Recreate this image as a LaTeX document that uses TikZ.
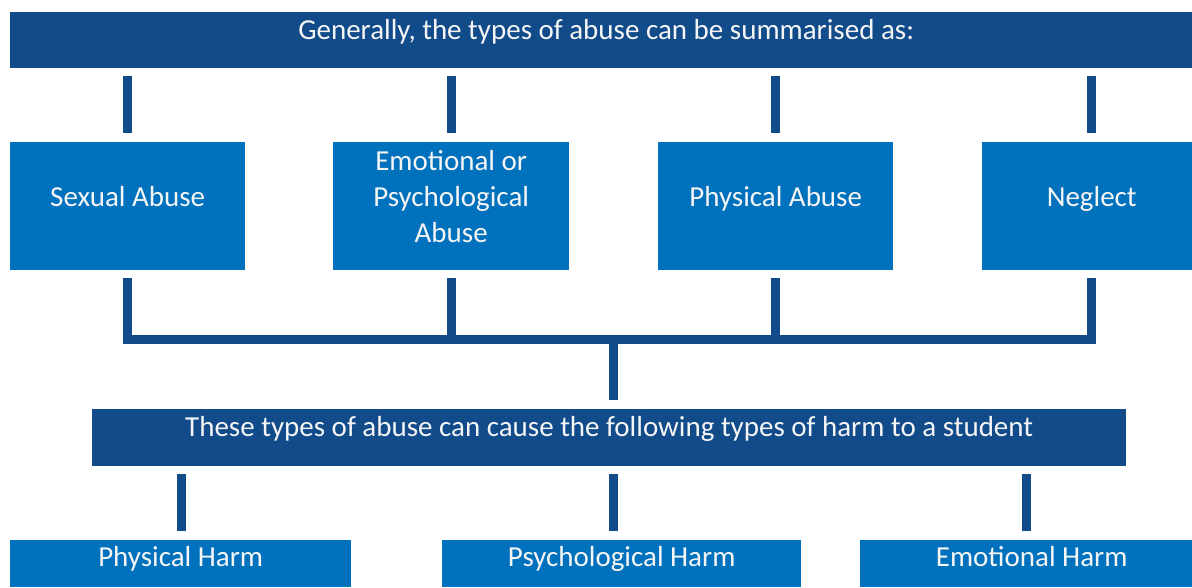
\documentclass[tikz,border=0pt]{standalone}
\usepackage{fontspec}
\setmainfont{Carlito}
\usetikzlibrary{calc}
\definecolor{darkblue}{RGB}{17,75,138}
\definecolor{midblue}{RGB}{0,113,188}
\begin{document}
\begin{tikzpicture}[x=1pt,y=-1pt,
  txt/.style={text=white!96!black, font=\fontsize{29}{36}\selectfont},
  bar/.style={txt, fill=darkblue, inner sep=0pt, anchor=north west},
  box/.style={txt, fill=midblue, inner sep=0pt, anchor=north west, align=center},
  lbl/.style={txt, inner sep=0pt, align=center},
  conn/.style={draw=darkblue, line width=9pt, line join=miter, line cap=butt}]
\useasboundingbox (0,0) rectangle (1192,587);
% top bar
\node[bar, minimum width=1192pt, minimum height=56pt, text height=27pt, text depth=29pt] (top) at (10,12)
  {Generally, the types of abuse can be summarised as:};
% abuse types
\node[box, minimum width=235pt, minimum height=128pt, text height=64pt, text depth=64pt] (sex) at (10,142) {Sexual Abuse};
\node[box, minimum width=236pt, minimum height=128pt] (emo) at (333,142) {};
\node[lbl] (emoT) at ([yshift=10pt]emo.center) {Emotional or\\Psychological\\Abuse};
\node[box, minimum width=235pt, minimum height=128pt, text height=64pt, text depth=64pt] (phy) at (658,142) {Physical Abuse};
\node[box, minimum width=219pt, minimum height=128pt, text height=64pt, text depth=64pt] (neg) at (982,142) {Neglect};
% second bar
\node[bar, minimum width=1034pt, minimum height=57pt, text height=27.7pt, text depth=29.3pt] (harm) at (92,409)
  {These types of abuse can cause the following types of harm to a student};
% harm types
\node[box, minimum width=341pt, minimum height=47pt, text height=26.7pt, text depth=20.3pt] (ph) at (10,540) {Physical Harm};
\node[box, minimum width=359pt, minimum height=47pt, text height=26.7pt, text depth=20.3pt] (psh) at (442,540) {Psychological Harm};
\node[box, minimum width=343pt, minimum height=47pt, text height=26.7pt, text depth=20.3pt] (eh) at (860,540) {Emotional Harm};
% junction
\coordinate (mid) at (613.5,339.5);
% top stubs
\foreach \b in {sex,emo,phy,neg}{
  \draw[conn] (top.south -| \b.north) ++(0pt,-8pt) -- ($(\b.north)+(0pt,9pt)$);
}
% collector
\draw[conn] ($(sex.south)+(0pt,-8pt)$) -- (sex.south |- mid) -- (neg.south |- mid) -- ($(neg.south)+(0pt,-8pt)$);
\foreach \b in {emo,phy}{
  \draw[conn] ($(\b.south)+(0pt,-8pt)$) -- (\b.south |- mid);
}
\draw[conn] (mid) -- ($(harm.north -| mid)+(0pt,9pt)$);
% bottom stubs
\draw[conn] (harm.south -| 181.5,0) ++(0pt,-8pt) -- ($(ph.north -| 181.5,0)+(0pt,9pt)$);
\draw[conn] (harm.south -| mid) ++(0pt,-8pt) -- ($(psh.north -| mid)+(0pt,9pt)$);
\draw[conn] (harm.south -| 1026.5,0) ++(0pt,-8pt) -- ($(eh.north -| 1026.5,0)+(0pt,9pt)$);
\end{tikzpicture}
\end{document}
